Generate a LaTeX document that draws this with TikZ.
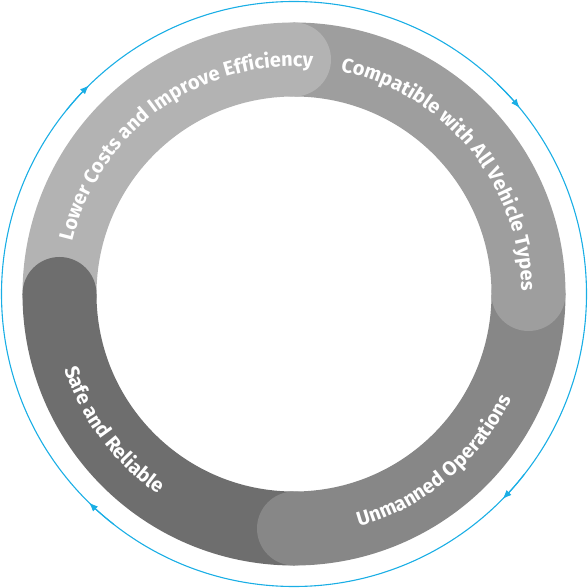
\documentclass[tikz,border=0pt]{standalone}
\usepackage{fontspec}
\usetikzlibrary{decorations.text,arrows.meta}
\newfontfamily\labfamily{Fira Sans}
\newcommand\labfont{\labfamily\bfseries\fontsize{20}{22}\selectfont}
\definecolor{segA}{HTML}{B3B3B3}
\definecolor{segB}{HTML}{9E9E9E}
\definecolor{segC}{HTML}{878787}
\definecolor{segD}{HTML}{6E6E6E}
\definecolor{cyc}{HTML}{1AAEE5}
\tikzset{
  seg/.style={line width=74pt},
  capdisk/.style={radius=37pt},
  cycline/.style={draw=cyc,line width=1.1pt},
  cycarrow/.style={cyc,line width=1.1pt,-{Latex[length=9pt,width=7pt]}},
  lab/.style={decorate,decoration={text along path,text align=center,text color=white,text={|\labfont|#1}}}
}
\begin{document}
\begin{tikzpicture}
\useasboundingbox (-294pt,-294pt) rectangle (294pt,294pt);
% outer cycle
\draw[cycline] (0,0) circle[radius=292.5pt];
\draw[cycarrow] (141:292.5pt) arc[start angle=141,end angle=134.5,radius=292.5pt];
\draw[cycarrow] (46:292.5pt) arc[start angle=46,end angle=39.5,radius=292.5pt];
\draw[cycarrow] (-38:292.5pt) arc[start angle=-38,end angle=-44.5,radius=292.5pt];
\draw[cycarrow] (232:292.5pt) arc[start angle=232,end angle=225.5,radius=292.5pt];
% ring segments
\draw[seg,segA] (180:234.5pt) arc[start angle=180,end angle=90,radius=234.5pt];
\draw[seg,segB] (90:234.5pt) arc[start angle=90,end angle=0,radius=234.5pt];
\draw[seg,segC] (0:234.5pt) arc[start angle=0,end angle=-90,radius=234.5pt];
\draw[seg,segD] (-90:234.5pt) arc[start angle=-90,end angle=-180,radius=234.5pt];
% round ends
\fill[segA] (90:234.5pt) circle[capdisk];
\fill[segB] (0:234.5pt) circle[capdisk];
\fill[segC] (-90:234.5pt) circle[capdisk];
\fill[segD] (180:234.5pt) circle[capdisk];
% labels
\path[lab={Lower Costs and Improve Efficiency}] (180:227.5pt) arc[start angle=180,end angle=72,radius=227.5pt];
\path[lab={Compatible with All Vehicle Types}] (88:227.5pt) arc[start angle=88,end angle=-9,radius=227.5pt];
\path[lab={Unmanned Operations}] (-95:241.5pt) arc[start angle=-95,end angle=-5,radius=241.5pt];
\path[lab={Safe and Reliable}] (172:241.5pt) arc[start angle=172,end angle=262,radius=241.5pt];
\end{tikzpicture}
\end{document}
